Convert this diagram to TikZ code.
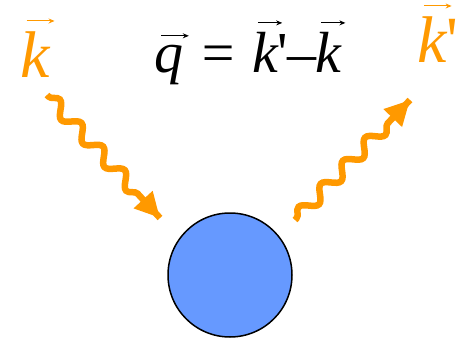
\documentclass[tikz,border=0pt]{standalone}
\usepackage{fontspec}
\setmainfont{Liberation Serif}
\usepackage{xcolor}
\usetikzlibrary{decorations.pathmorphing, arrows.meta, calc}

\definecolor{photon}{HTML}{FF9900}
\definecolor{target}{HTML}{6699FF}

\tikzset{
  wave/.style={photon, line width=6.5pt,
    decoration={snake, amplitude=6.5pt, segment length=32pt, pre length=2pt, post length=22pt},
    decorate},
  wavetip/.style={-{Triangle[length=25pt,width=24pt]}, photon, line width=6.5pt},
  lbl/.style={inner sep=0pt, font=\fontsize{66}{70}\selectfont\itshape}
}
% Vektorpfeil ueber einem Buchstaben
\newcommand{\vv}[1]{\setbox0\hbox{#1}\rlap{\hskip0.2\wd0\raisebox{\dimexpr\ht0+0.17em\relax}{\tikz[baseline=0pt]\draw[-{Stealth[length=6pt,width=5pt]}, line width=1pt] (0pt,0pt) -- (0.95\wd0,0pt);}}\box0\relax}
\newcommand{\prm}{\textup{\textquotesingle}}

\begin{document}
\begin{tikzpicture}[x=1pt, y=-1pt]
    \useasboundingbox (0,0) rectangle (466,342);

    % Teilchen in der Mitte
    \node[circle, draw=black, line width=1.5pt, fill=target, minimum size=124pt] (target) at (230,275) {};

    % Beschriftungen
    \node[lbl, photon, anchor=base] (kin) at (35,78) {\vv{k}};
    \node[lbl, photon, anchor=base] (kout) at (438,63) {\vv{k}\prm};
    \node[lbl, font=\fontsize{58}{62}\selectfont\itshape, anchor=base] (qlabel) at (248,73)
        {\vv{q} = \vv{k}\prm\kern-1pt--\kern-1pt\vv{k}};

    % einlaufendes und auslaufendes Photon
    \coordinate (inS) at (47,95);
    \coordinate (inE) at (160,218);
    \coordinate (outS) at (295,220);
    \coordinate (outE) at (410,100);
    \draw[wave] (inS) -- (inE);
    \draw[wavetip] ($(inE)!24pt!(inS)$) -- (inE);
    \draw[wave] (outS) -- (outE);
    \draw[wavetip] ($(outE)!24pt!(outS)$) -- (outE);

\end{tikzpicture}
\end{document}
